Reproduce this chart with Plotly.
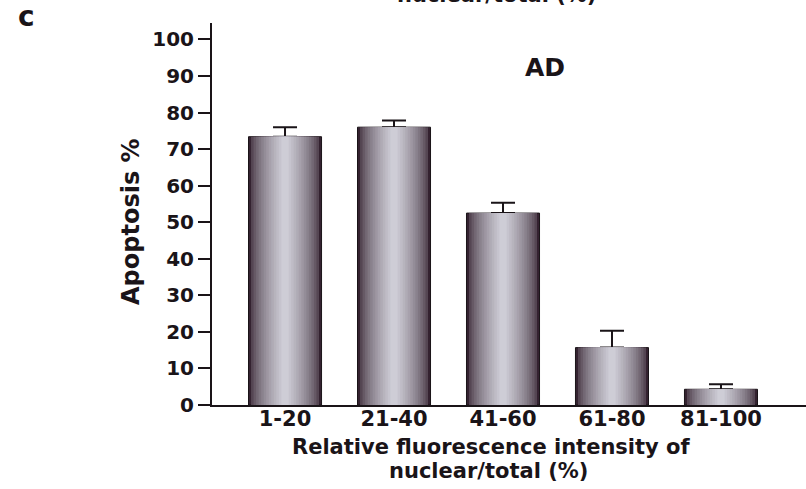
import plotly.graph_objects as go
import numpy as np

categories = ["1-20", "21-40", "41-60", "61-80", "81-100"]
apoptosis = [73.4, 76.0, 52.5, 15.7, 4.3]
error_plus = [2.6, 1.8, 2.8, 4.6, 1.4]
y_ticks = [0, 10, 20, 30, 40, 50, 60, 70, 80, 90, 100]

W, H = 806, 489
L, R, T, B = 212, 0, 23, 84
PW, PH = W - L - R, H - T - B

def px_x(p):
    return (p - L) / PW

def px_y(p):
    return (H - B - p) / PH

FONT = "DejaVu Sans, Liberation Sans, Arial, sans-serif"
DARK = "#1a1418"

x_pos = list(range(len(categories)))
fig = go.Figure()

n_layers = 14
full_w = 0.67
dark = np.array([52, 34, 48])
light = np.array([206, 205, 214])
for i in range(n_layers):
    t = i / (n_layers - 1)
    w = full_w * (1 - 0.9 * t)
    c = dark + (light - dark) * (t ** 0.6)
    col = "rgb(%d,%d,%d)" % tuple(c.astype(int))
    kw = {}
    if i == 0:
        kw["error_y"] = dict(type="data", array=error_plus, symmetric=False,
                             arrayminus=[0] * len(error_plus),
                             color=DARK, thickness=2, width=12)
        kw["marker_line"] = dict(color=DARK, width=1)
    else:
        kw["marker_line"] = dict(width=0)
        kw["hoverinfo"] = "skip"
    fig.add_trace(go.Bar(x=x_pos, y=apoptosis, width=w, marker_color=col,
                         showlegend=False, **kw))

fig.update_layout(
    width=W, height=H, autosize=False,
    margin=dict(l=L, r=R, t=T, b=B, pad=0),
    barmode="overlay",
    plot_bgcolor="white", paper_bgcolor="white",
    font=dict(family=FONT, color=DARK),
)

fig.update_xaxes(
    range=[-0.67, 4.78], tickvals=x_pos, ticktext=categories,
    showline=True, linecolor=DARK, linewidth=2, ticks="", ticklen=0, showgrid=False,
    zeroline=False, ticklabelstandoff=-6,
    tickfont=dict(family=FONT, size=21, weight=700, color=DARK),
)
fig.update_yaxes(
    range=[0, 104.5], tickvals=y_ticks,
    showline=True, linecolor=DARK, linewidth=2, ticks="outside", ticklen=12,
    tickwidth=1.5, tickcolor=DARK, showgrid=False, zeroline=False,
    tickfont=dict(family=FONT, size=20, weight=700, color=DARK),
)

# extend baseline to the left of the y axis
fig.add_shape(type="line", xref="paper", yref="y", x0=px_x(200), x1=0, y0=0, y1=0,
              line=dict(color=DARK, width=2))

def ann_font(s):
    return dict(family=FONT, size=s, weight=700, color=DARK)

def label(text, x, y, size, **kw):
    fig.add_annotation(text=text, xref="paper", yref="paper", x=px_x(x), y=px_y(y),
                       xanchor="center", yanchor=kw.pop("yanchor", "middle"),
                       showarrow=False, font=ann_font(size), **kw)

label("AD", 545, 67, 25)
label("Apoptosis %", 131, 222, 24, textangle=-90)
label("Relative fluorescence intensity of", 491, 447, 21)
label("nuclear/total (%)", 488, 471, 21)
label("c", 26, 16, 28)
label("nuclear/total (%)", 496, 9, 21, yanchor="bottom")

fig.write_html("out.html",
               config={"displayModeBar": False},
               post_script="document.body.style.margin='0';"
                           "document.documentElement.style.overflow='hidden';")
